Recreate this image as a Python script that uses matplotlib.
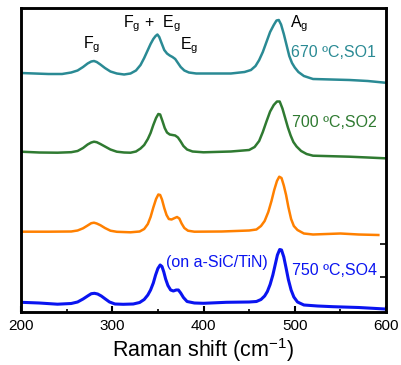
import matplotlib
matplotlib.use('Agg')
import matplotlib.pyplot as plt

plt.rcParams['font.family'] = ['Liberation Sans', 'DejaVu Sans']
plt.rcParams['mathtext.fontset'] = 'custom'
plt.rcParams['mathtext.rm'] = 'Liberation Sans'
plt.rcParams['mathtext.it'] = 'Liberation Sans:italic'

# spectra, already stacked (arbitrary units)
shift_so1 = [200, 215, 230, 245, 255, 262, 268, 273, 277, 280, 283, 287, 292, 298, 305,
             313, 320, 326, 331, 335, 339, 342, 345, 347.5, 349.5, 351.5, 354, 357, 360,
             363, 366, 369, 372, 375, 379, 384, 392, 410, 430, 445, 452, 457, 461, 465,
             469, 473, 477, 480, 482.5, 485, 488, 491, 494, 497, 500, 504, 510, 520,
             540, 560, 580, 599]
int_so1 = [239, 238.5, 238, 238, 239.5, 241.5, 245, 248.5, 250.5, 251, 250, 247.5, 244,
           240.5, 238.5, 237.5, 238.5, 241.5, 247, 254, 262, 268, 273, 276, 277.5, 275,
           269, 262, 258.5, 256.5, 255, 253, 249, 245, 241.5, 239.5, 238.5, 238.5,
           238.5, 240, 242, 246, 252, 260, 270, 280, 287, 291.5, 292, 287.5, 278, 267,
           256, 249, 244.5, 240, 236, 233, 232.5, 232, 231, 229.3]

shift_so2 = [200, 220, 240, 255, 262, 268, 273, 277, 280, 283, 287, 292, 298, 305, 313,
             320, 326, 331, 335, 339, 342, 345, 348, 350.5, 352.5, 355, 357.5, 360, 363,
             366, 369, 372, 375, 378, 382, 388, 400, 430, 450, 456, 461, 465, 469, 473,
             477, 480.5, 483.5, 486.5, 489.5, 492.5, 495.5, 498.5, 502, 507, 513, 520,
             540, 560, 580, 599]
int_so2 = [160.3, 159.5, 159.3, 159.8, 161, 164, 167.5, 169.5, 170.3, 169.8, 168, 165.5,
           162.5, 160.3, 159.5, 159.3, 160.5, 163.5, 167, 173, 179, 187, 194, 198,
           197.5, 191, 184, 179.5, 177.5, 177, 176.5, 174.5, 170.5, 166, 162.5, 160.5,
           159.7, 160.5, 162, 165, 171, 180, 190.5, 200.5, 207, 210.5, 210.5, 203.5, 194,
           184.5, 176.5, 170, 165.5, 161, 158, 156.3, 155.8, 155.3, 154.5, 153.7]

shift_so3 = [200, 230, 255, 262, 268, 273, 277, 280, 283, 287, 292, 298, 305, 320, 330,
             335, 339, 342, 345, 348, 350.5, 352.5, 354.5, 357, 359.5, 362, 365, 368, 371,
             373.5, 376, 379, 383, 390, 420, 450, 458, 463, 467, 471, 474.5, 477.5, 480.5,
             483, 485.5, 488, 490.5, 493, 496, 499, 503, 510, 520, 550, 570, 591.6]
int_so3 = [80.3, 80.3, 80.5, 81.5, 83.7, 86.5, 88.8, 89.3, 88.5, 86.8, 84, 81.3, 80.2,
           79.7, 80.5, 83, 88, 95, 104.5, 113, 117.5, 117, 112.5, 104, 97, 93, 92.5,
           93.8, 95, 93.5, 88.5, 84, 81.3, 80.3, 80.5, 81.5, 82.5, 86, 91, 100, 111, 122,
           131, 135.3, 134, 126.5, 117, 105, 93, 86, 82, 78.5, 77.5, 78.5, 77.5, 77]

shift_so4 = [200, 220, 240, 255, 262, 268, 273, 277, 280.5, 284, 288, 292, 297, 303, 312,
             323, 330, 335, 339, 342, 345, 347.5, 350, 352.5, 354.5, 356.5, 358.5, 361,
             364, 367, 370, 372.5, 375, 378, 382, 390, 400, 425, 450, 458, 463, 467, 470,
             473, 476, 478.5, 481, 483.5, 485.5, 488, 490.5, 493, 496, 499, 503, 510, 525,
             542, 570, 599]
int_so4 = [9.7, 9, 7.8, 8.5, 10, 13, 16, 18.3, 18.7, 18, 16, 13.3, 10, 8, 7.7, 8, 9.5,
           12.5, 17, 22, 29, 37, 43.5, 47, 45.5, 40, 33, 26.5, 22, 21, 22, 22, 19, 14.5,
           10.5, 9, 8.7, 9.7, 10, 10.5, 12.5, 16, 20.5, 27.5, 37, 47, 57, 62.5, 62, 55,
           44, 32.5, 22, 15, 10, 7, 6, 5.3, 4.5, 3]

c_so1 = '#2a8a94'
c_so2 = '#2f7a31'
c_so3 = '#ff8000'
c_so4 = '#0a14f0'

fig = plt.figure(figsize=(4.02, 3.65), dpi=100)
ax = fig.add_axes([21/402, 53/365, 365/402, 304/365])

ax.plot(shift_so1, int_so1, color=c_so1, lw=1.8)
ax.plot(shift_so2, int_so2, color=c_so2, lw=1.8)
ax.plot(shift_so3, int_so3, color=c_so3, lw=1.8)
ax.plot(shift_so4, int_so4, color=c_so4, lw=2.2)

fs = 11.5
ax.text(268, 264, r'$\mathregular{F_g}$', fontsize=fs)
ax.text(311.8, 285, r'$\mathregular{F_g}$ +  $\mathregular{E_g}$', fontsize=fs)
ax.text(374.2, 263, r'$\mathregular{E_g}$', fontsize=fs)
ax.text(494.8, 284.7, r'$\mathregular{A_g}$', fontsize=fs)
ax.text(495.9, 255.3, '670 ºC,SO1', color=c_so1, fontsize=fs)
ax.text(496.9, 185.3, '700 ºC,SO2', color=c_so2, fontsize=fs)
ax.text(497.4, 37, '750 ºC,SO4', color=c_so4, fontsize=fs)
ax.text(358.6, 45.5, '(on a-SiC/TiN)', color=c_so4, fontsize=fs)

ax.set_xlim(200, 600)
ax.set_ylim(0, 304)
ax.set_xticks([200, 300, 400, 500, 600])
ax.set_xticks([250, 350, 450, 550], minor=True)
ax.tick_params(axis='x', which='major', direction='in', length=4, width=1.5,
               labelsize=11, pad=5)
ax.tick_params(axis='x', which='minor', direction='in', length=2, width=1.2)
ax.set_yticks([])
ax.set_xlabel(r'Raman shift (cm$\mathregular{^{-1}}$)', fontsize=15.5, labelpad=2)

# leftover ticks on the right spine
axr = ax.twinx()
axr.set_ylim(0, 304)
axr.set_yticks([35, 68])
axr.tick_params(axis='y', direction='in', length=4, width=1.2, labelright=False)

for a in (ax, axr):
    for s in a.spines.values():
        s.set_linewidth(1.8)

plt.savefig('out.png', dpi=100)
